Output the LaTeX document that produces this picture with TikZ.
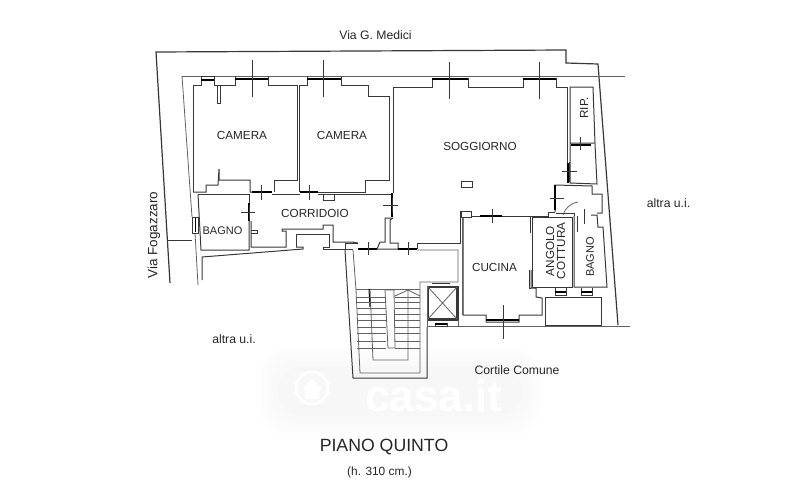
\documentclass[tikz,border=0pt]{standalone}
\usepackage{fontspec}
\setmainfont{Liberation Sans}
\definecolor{wallgray}{gray}{0.22}
\definecolor{linegray}{gray}{0.38}
\tikzstyle{wall} = [draw=wallgray,line width=1pt,line join=miter]
\tikzstyle{thin wall} = [draw=linegray,line width=0.8pt]
\tikzstyle{opening} = [draw=black,line width=1.4pt]
\tikzstyle{tick} = [draw=wallgray,line width=0.7pt]
\tikzstyle{step line} = [draw=linegray,line width=0.8pt]
\tikzstyle{room label} = [font=\fontsize{11.7}{11}\selectfont,inner sep=0pt,text=black!85]
\tikzstyle{street label} = [font=\fontsize{12.2}{12}\selectfont,inner sep=0pt,text=black!85]

\begin{document}
\begin{tikzpicture}[x=1pt,y=-1pt]
    \useasboundingbox (0,0) rectangle (800,495);

    \foreach \grow/\shade in {0/0.5, 4/1, 8/1.5, 12/2, 16/2.5, 20/3}
        \fill[black!\shade,rounded corners=25pt] (258+\grow,346+\grow) rectangle (542-\grow,436-\grow);
    \draw[white,line width=3pt] (312,388) circle (16pt);
    \fill[white] (302,389) -- (312,379) -- (322,389) -- (319,389) -- (319,399) -- (305,399) -- (305,389) -- cycle;
    \node[text=white,font=\fontsize{44}{44}\bfseries\selectfont,inner sep=0pt] (logo) at (434,396) {casa.it};

    \draw[wall,line width=1.2pt] (170,283) -- (156,52) -- (566,50) -- (566,63) -- (598,64) -- (618,325);
    \draw[thin wall] (182,76) -- (625,76);
    \draw[thin wall] (182,76) -- (192,217);
    \draw[thin wall] (195,233) -- (198,285);
    \draw[thin wall] (427,326) -- (630,326);
    \draw[wall] (168,240) -- (192,240);
    \draw[wall] (192,217) rectangle (198,233);
    \draw[opening,line width=1pt] (195,218) -- (195,232);

    \draw[wall] (193,192) -- (193,85) -- (201,85) -- (201,76) -- (214,76) -- (214,85) -- (235,85) -- (235,76);
    \draw[wall] (268,76) -- (268,85) -- (297,85) -- (297,180) -- (274,180) -- (274,192);
    \draw[wall] (252,192) -- (250,192) -- (250,180) -- (219,180) -- (219,169) -- (218,185) -- (206,185) -- (206,192) -- (193,192);
    \draw[wall] (217,85) -- (217,103) -- (220,103) -- (220,85);
    \draw[wall] (299,192) -- (299,85) -- (307,85) -- (307,76);
    \draw[wall] (341,76) -- (341,85) -- (368,85) -- (368,96) -- (389,96) -- (389,180) -- (365,180) -- (365,192) -- (318,192);

    \draw[wall] (198,194) -- (249,194) -- (249,203);
    \draw[wall] (249,221) -- (249,250) -- (201,250) -- (198,194);
    \draw[wall] (251,221) -- (251,247) -- (286,247) -- (286,231) -- (282,231) -- (282,229) -- (323,229) -- (323,225) -- (333,225) -- (333,242) -- (352,242) -- (358,243);
    \draw[wall] (251,230) -- (257,230) -- (257,233) -- (251,233);
    \draw[wall] (296,247) -- (296,234) -- (329,234) -- (329,247) -- (323,247) -- (323,249) -- (353,249);
    \draw[wall] (202,280) -- (202,257) -- (303,249) -- (303,247) -- (296,247);
    \draw[wall] (323,194) -- (323,200) -- (334,200) -- (334,194);
    \draw[wall] (272,194) -- (300,194);
    \draw[wall] (318,194) -- (391,194);

    \draw[wall] (393,193) -- (393,87) -- (432,87) -- (432,78);
    \draw[wall] (468,78) -- (468,87) -- (523,87) -- (523,78);
    \draw[wall] (556,78) -- (556,87) -- (567,87) -- (567,163);
    \draw[wall] (392,218) -- (385,218) -- (385,242) -- (380,242) -- (377,249);
    \draw[wall] (377,249) -- (398,249) -- (398,243) -- (390,243) -- (390,220) -- (393,218);
    \draw[wall] (417,249) -- (417,243) -- (460,243) -- (460,211) -- (471,211) -- (471,217) -- (461,217) -- (461,211);
    \draw[wall] (471,216) -- (480,216);
    \draw[wall] (502,216) -- (548,216) -- (548,212) -- (555,212);

    \draw[wall] (570,147) -- (570,87) -- (593,87) -- (595,143) -- (570,143);
    \draw[wall] (570,147) -- (570,183) -- (597,184) -- (595,144);
    \draw[wall] (555,212) -- (555,185) -- (592,186) -- (592,194) -- (602,194) -- (602,213) -- (597,213);
    \draw[wall] (556,213) -- (575,213);
    \draw[thin wall] (563,215) .. controls (565,208) and (571,203) .. (578,202);

    \draw[wall] (463,217) -- (463,315) -- (486,315) -- (486,322) -- (519,322) -- (519,315) -- (542,315) -- (542,298) -- (536,297) -- (536,288) -- (531,288) -- (531,270);
    \draw[wall] (529,270) -- (529,288) -- (531,288);
    \draw[wall] (530,217) -- (530,233);
    \draw[wall] (532,217) -- (532,287) -- (572,287) -- (572,217) -- cycle;
    \draw[wall] (574,216) -- (574,287) -- (607,287) -- (603,227) -- (598,227) -- (597,215) -- (591,215);
    \draw[wall] (574,216) -- (574,213);
    \draw[wall] (577,216) -- (577,232);
    \draw[wall] (555,288) -- (555,295) -- (566,295) -- (566,288);
    \draw[wall] (581,288) -- (581,295) -- (592,295) -- (592,288);
    \draw[wall] (545,297) rectangle (601,325);
    \draw[wall] (461,181) rectangle (472,187);

    \draw[wall] (345,250) -- (353,378) -- (427,378) -- (427,327);
    \draw[wall] (358,243) -- (345,243) -- (345,250);
    \draw[thin wall] (353,250) -- (356,290) -- (360,373) -- (420,373) -- (420,282) -- (458,282) -- (458,250) -- (417,250);
    \draw[thin wall] (356,289) -- (420,289);
    \draw[thin wall] (370,289) -- (373,360) -- (408,360) -- (408,289);
    \draw[opening,line width=1pt] (369,289) -- (370,307);
    \draw[thin wall] (385,290) -- (388,348) -- (395,348) -- (394,290) -- cycle;
    \draw[thin wall] (395,296) -- (408,290) -- (420,296);
    \foreach \ypos in {297,302,308,314,320,327,333,341,348}
        \path[step line] (357,\ypos) -- (386,\ypos) (395,\ypos) -- (420,\ypos);

    \draw[wall] (427,286) rectangle (458,320);
    \draw[wall,line width=1.5pt] (428,287) rectangle (457,319);
    \draw[thin wall] (428,287) -- (457,319) (457,287) -- (428,319);
    \draw[thin wall] (427,286) -- (427,327) (458,320) -- (458,327);
    \draw[wall] (435,326) rectangle (447,323);
    \draw[wall] (432,283) -- (450,283);
    \draw[thin wall] (462,217) -- (462,315);

    \foreach \xa/\xb/\ypos in {235/268/79, 307/341/79, 432/468/79, 523/556/79, 486/519/320,
                               201/214/80, 252/272/192, 300/318/192, 358/377/249, 398/417/249,
                               480/502/216, 571/591/145, 555/566/292, 581/592/292, 435/447/324}
        \path[opening] (\xa,\ypos) -- (\xb,\ypos);
    \foreach \xpos/\ya/\yb in {249/203/221, 392/193/217, 568/163/183, 555/185/210}
        \path[opening] (\xpos,\ya) -- (\xpos,\yb);

    \foreach \xpos/\ya/\yb in {252/60/97, 323/60/97, 449/62/99, 539/62/99, 503/305/339,
                               261/185/200, 309/185/200, 368/242/255, 408/242/255,
                               492/209/223, 584/209/224, 580/137/150, 249/205/220}
        \path[tick] (\xpos,\ya) -- (\xpos,\yb);
    \foreach \xa/\xb/\ypos in {241/255/212, 383/398/205, 562/577/171, 550/564/198}
        \path[tick] (\xa,\ypos) -- (\xb,\ypos);
    \path[tick] (392,198) -- (392,213) (569,162) -- (569,182);

    \node[street label] (medici) at (375.5,35) {Via G. Medici};
    \node[street label,rotate=90,font=\fontsize{13.5}{13}\selectfont] (fogazzaro) at (154,235) {Via Fogazzaro};
    \node[street label] (altraa) at (668.5,203) {altra u.i.};
    \node[street label] (altrab) at (234,339) {altra u.i.};
    \node[street label] (cortile) at (517,370) {Cortile Comune};
    \node[room label] (camerab) at (242,135) {CAMERA};
    \node[room label] (camerac) at (342,135) {CAMERA};
    \node[room label] (soggiorno) at (480,146) {SOGGIORNO};
    \node[room label] (ripost) at (584,108) [rotate=90] {RIP.};
    \node[room label] (corridoio) at (315,213) {CORRIDOIO};
    \node[room label,font=\fontsize{11}{11}\selectfont] (bagnoa) at (222.5,231) {BAGNO};
    \node[room label] (cucina) at (494.5,267) {CUCINA};
    \node[room label,rotate=90,align=center] (angolo) at (555.5,251) {ANGOLO\\COTTURA};
    \node[room label,rotate=90,font=\fontsize{11}{11}\selectfont] (bagnob) at (590,257) {BAGNO};
    \node[font=\fontsize{17.7}{17.7}\selectfont,inner sep=0pt,text=black!85] (piano) at (384,447) {PIANO QUINTO};
    \node[street label,font=\fontsize{11.9}{12}\selectfont] (altezza) at (379.5,472) {(h. 310 cm.)};
\end{tikzpicture}
\end{document}
